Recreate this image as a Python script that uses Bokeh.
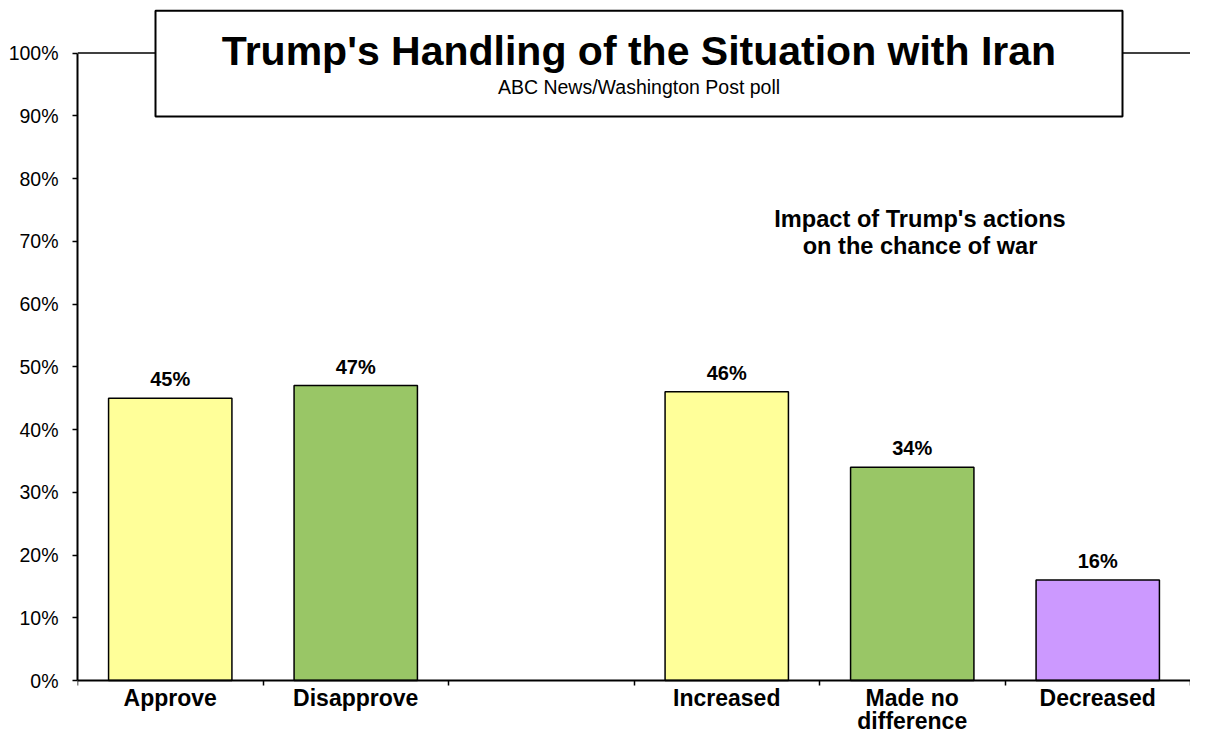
from bokeh.plotting import figure
from bokeh.models import (Range1d, FixedTicker, PrintfTickFormatter,
                          CustomJSTickFormatter, ColumnDataSource)
from bokeh.core.properties import value
from bokeh.embed import file_html
from bokeh.resources import INLINE

# ---------------- data ----------------
categories = ["Approve", "Disapprove", "", "Increased", "Made no\ndifference", "Decreased"]
percent = [45, 47, None, 46, 34, 16]
bar_colors = ["#FFFF99", "#99C666", None, "#FFFF99", "#99C666", "#CC99FF"]
y_ticks = [0, 10, 20, 30, 40, 50, 60, 70, 80, 90, 100]
title_text = "Trump's Handling of the Situation with Iran"
subtitle_text = "ABC News/Washington Post poll"
note_lines = ["Impact of Trump's actions", "on the chance of war"]

# ---------------- layout ----------------
FONT = "Liberation Sans"
W, H = 1190, 734
BORDER_L = 77
PX_TOP = 52.5      # px from canvas top to the 100% line
PX_ZERO = 680.0    # px from canvas top to the 0% line
n_slots = len(categories)
slot_px = (W - BORDER_L) / n_slots
ppu = (PX_ZERO - PX_TOP) / 100.0
y_top = 100 + PX_TOP / ppu
y_bot = -(H - PX_ZERO) / ppu


def y_from_px(py):
    """data y for a pixel offset measured from the canvas top"""
    return y_top - py / ppu


def x_from_px(px):
    """data x for a pixel offset measured from the canvas left"""
    return (px - BORDER_L) / slot_px


p = figure(width=W, height=H, x_range=Range1d(0, n_slots), y_range=Range1d(y_bot, y_top),
           output_backend="svg", toolbar_location=None,
           min_border=0, min_border_left=BORDER_L, min_border_bottom=0,
           min_border_right=0, min_border_top=0,
           background_fill_color="white", border_fill_color="white")
p.outline_line_color = None
p.xgrid.grid_line_color = None
p.ygrid.grid_line_color = None

# y axis
p.yaxis.ticker = FixedTicker(ticks=y_ticks)
p.yaxis.formatter = PrintfTickFormatter(format="%d%%")
p.yaxis.bounds = (0, 100)
p.yaxis.axis_line_width = 2
p.yaxis.major_tick_out = 5
p.yaxis.major_tick_in = 0
p.yaxis.major_tick_line_width = 1.5
p.yaxis.minor_tick_line_color = None
p.yaxis.major_label_standoff = 14
p.yaxis.major_label_text_font = FONT
p.yaxis.major_label_text_font_size = "19.5px"
p.yaxis.major_label_text_color = "black"

# x axis at 0%: labels at slot centres, tick marks at slot boundaries
p.xaxis.fixed_location = 0
p.xaxis.ticker = FixedTicker(ticks=[i + 0.5 for i in range(n_slots)],
                             minor_ticks=list(range(n_slots + 1)))
p.xaxis.formatter = CustomJSTickFormatter(args=dict(labels=categories),
                                          code="return labels[Math.round(tick - 0.5)]")
p.xaxis.axis_line_width = 2
p.xaxis.major_tick_out = 0
p.xaxis.major_tick_in = 0
p.xaxis.minor_tick_out = 5
p.xaxis.minor_tick_in = 0
p.xaxis.minor_tick_line_width = 1.5
p.xaxis.major_label_standoff = -1
p.xaxis.major_label_text_font = FONT
p.xaxis.major_label_text_font_style = "bold"
p.xaxis.major_label_text_font_size = "23px"
p.xaxis.major_label_text_line_height = 0.92
p.xaxis.major_label_text_color = "black"

# 100% line along the top of the plot area
p.segment(x0=[0], y0=[100], x1=[n_slots], y1=[100], line_color="black", line_width=1.5)

# bars
idx = [i for i, v in enumerate(percent) if v is not None]
src = ColumnDataSource(dict(
    x=[i + 0.5 for i in idx],
    top=[percent[i] for i in idx],
    color=[bar_colors[i] for i in idx],
    label=[f"{percent[i]}%" for i in idx],
))
p.vbar(x="x", top="top", bottom=0, width=0.665, fill_color="color",
       line_color="black", line_width=1.5, source=src)
p.text(x="x", y="top", text="label", source=src, text_align="center",
       text_baseline="middle", y_offset=-19, text_font=value(FONT),
       text_font_style="bold", text_font_size="20px", text_color="black")

# title box
p.quad(left=[x_from_px(155)], right=[x_from_px(1122)],
       top=[y_from_px(10.3)], bottom=[y_from_px(116)],
       fill_color="white", line_color="black", line_width=2)
box_cx = x_from_px((155 + 1122) / 2)
p.text(x=[box_cx], y=[y_from_px(50)], text=[title_text], text_align="center",
       text_baseline="middle", text_font=value(FONT), text_font_style="bold",
       text_font_size="41px", text_color="black")
p.text(x=[box_cx], y=[y_from_px(86)], text=[subtitle_text], text_align="center",
       text_baseline="middle", text_font=value(FONT),
       text_font_size="19.5px", text_color="black")

# note above the right-hand group
note_x = x_from_px(919.5)
p.text(x=[note_x, note_x], y=[y_from_px(218.5), y_from_px(245)], text=note_lines,
       text_align="center", text_baseline="middle", text_font=value(FONT),
       text_font_style="bold", text_font_size="23.6px", text_color="black")

open("out.html", "w").write(file_html(p, INLINE))
